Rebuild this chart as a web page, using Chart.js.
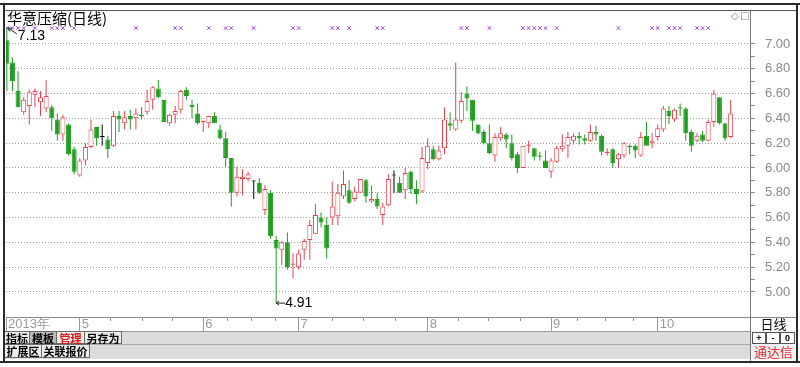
<!DOCTYPE html>
<html>
<head>
<meta charset="utf-8">
<title>华意压缩(日线)</title>
<script src="https://cdn.jsdelivr.net/npm/chart.js@4.4.1/dist/chart.umd.min.js"></script>
<style>
  html, body { margin: 0; padding: 0; background: #fff; }
  #wrap { position: relative; width: 800px; height: 367px; overflow: hidden; background: #fff;
          font-family: "Noto Sans CJK SC", sans-serif; }
  #kline { position: absolute; left: 0; top: 0; }
  .ln, .txt, .btn { position: absolute; box-sizing: border-box; }
  .btn { height: 13px; font-size: 11px; line-height: 12px; text-align: center; background: #ececec;
         border: 1px solid #6a6a6a; border-left: none; color: #000; font-weight: bold; white-space: nowrap; }
  .cell { position: absolute; box-sizing: border-box; height: 12px; width: 14px; border: 1px solid #555;
          background: #fff; font: bold 9px "Liberation Sans", Arial, sans-serif; line-height: 10px; text-align: center; }
</style>
</head>
<body>
<div id="wrap">
  <canvas id="kline" width="800" height="367"></canvas>

  <!-- frame -->
  <div class="ln" style="left:0;top:3px;width:800px;height:2px;background:#2b2b2b"></div>
  <div class="ln" style="left:3px;top:3px;width:2px;height:360px;background:#2b2b2b"></div>
  <div class="ln" style="left:796px;top:3px;width:2px;height:360px;background:#2b2b2b"></div>
  <div class="ln" style="left:0;top:361px;width:800px;height:2px;background:#2b2b2b"></div>
  <div class="ln" style="left:5px;top:10px;width:791px;height:1px;background:#555"></div>
  <div class="ln" style="left:750px;top:317px;width:1px;height:44px;background:#777"></div>
  <div class="ln" style="left:750px;top:317px;width:46px;height:1px;background:#888"></div>

  <div class="txt" style="left:7px;top:9px;font-size:15px;line-height:17px;color:#000">华意压缩(日线)</div>
  <div class="txt" style="left:731px;top:10px;font:10px 'DejaVu Sans';color:#888">◇</div>
  <div class="txt" style="left:740px;top:10px;font:10px 'DejaVu Sans';color:#888">□</div>

  <!-- toolbar -->
  <div class="ln" style="left:5px;top:331px;width:745px;height:13px;background:#dcdcdc;border-top:1px solid #999"></div>
  <div class="ln" style="left:5px;top:344px;width:745px;height:15px;background:#dcdcdc;border-top:1px solid #aaa"></div>
  <div class="btn" style="left:5px;top:331px;width:25px">指标</div>
  <div class="btn" style="left:30px;top:331px;width:27px;background:#b9b9b9">模板</div>
  <div class="btn" style="left:57px;top:331px;width:28px;color:#e01818">管理</div>
  <div class="btn" style="left:85px;top:331px;width:37px">另存为</div>
  <div class="btn" style="left:5px;top:344px;width:37px;height:14px">扩展区</div>
  <div class="btn" style="left:42px;top:344px;width:48px;height:14px">关联报价</div>

  <!-- right panel -->
  <div class="txt" style="left:751px;top:316px;width:45px;text-align:center;font-size:13px;line-height:16px;color:#000">日线</div>
  <div class="ln" style="left:751px;top:331px;width:45px;height:28px;background:#f2f2f2"></div>
  <div class="cell" style="left:752px;top:332px">+</div>
  <div class="cell" style="left:766px;top:332px">-</div>
  <div class="cell" style="left:780px;top:332px;width:15px">0</div>
  <div class="txt" style="left:751px;top:344px;width:45px;text-align:center;font-size:13px;line-height:16px;color:#e4262c">通达信</div>
</div>

<script>
// daily candles (one entry per trading day)
const opens = [
  7.03, 6.85, 6.62, 6.45, 6.50, 6.59, 6.53, 6.48, 6.49, 6.39,
  6.27, 6.35, 6.15, 5.94, 6.06, 6.17, 6.33, 6.25, 6.23, 6.18,
  6.42, 6.36, 6.42, 6.40, 6.43, 6.45, 6.55, 6.64, 6.55, 6.36,
  6.43, 6.47, 6.63, 6.51, 6.44, 6.37, 6.36, 6.42, 6.31, 6.24,
  6.08, 5.80, 5.91, 5.91, 5.89, 5.88, 5.66, 5.80, 5.42, 5.34,
  5.40, 5.22, 5.20, 5.34, 5.42, 5.47, 5.60, 5.54, 5.60, 5.61,
  5.77, 5.82, 5.75, 5.80, 5.90, 5.73, 5.75, 5.62, 5.70, 5.94,
  5.88, 5.82, 5.97, 5.83, 5.81, 6.04, 6.15, 6.07, 6.16, 6.36,
  6.31, 6.38, 6.60, 6.55, 6.35, 6.29, 6.20, 6.10, 6.24, 6.27,
  6.20, 6.11, 6.00, 6.18, 6.16, 6.10, 6.06, 5.97, 6.05, 6.15,
  6.18, 6.22, 6.26, 6.24, 6.22, 6.29, 6.26, 6.12, 6.15, 6.07,
  6.10, 6.18, 6.18, 6.10, 6.26, 6.20, 6.25, 6.31, 6.46, 6.39,
  6.49, 6.48, 6.29, 6.22, 6.27, 6.22, 6.37, 6.57, 6.36, 6.25
];
const highs = [
  7.13, 6.89, 6.78, 6.57, 6.63, 6.64, 6.62, 6.71, 6.51, 6.44,
  6.43, 6.36, 6.17, 6.08, 6.20, 6.39, 6.33, 6.35, 6.26, 6.46,
  6.46, 6.46, 6.47, 6.48, 6.49, 6.63, 6.66, 6.71, 6.55, 6.44,
  6.50, 6.63, 6.65, 6.55, 6.52, 6.38, 6.42, 6.45, 6.35, 6.29,
  6.08, 6.01, 5.99, 5.97, 5.90, 5.92, 5.86, 5.82, 5.45, 5.41,
  5.48, 5.31, 5.34, 5.43, 5.58, 5.71, 5.64, 5.60, 5.89, 5.87,
  5.98, 5.90, 5.85, 5.91, 5.91, 5.86, 5.80, 5.72, 5.95, 5.98,
  5.93, 6.00, 5.98, 5.90, 6.17, 6.24, 6.18, 6.18, 6.49, 6.45,
  6.85, 6.61, 6.66, 6.55, 6.35, 6.31, 6.35, 6.28, 6.33, 6.28,
  6.27, 6.13, 6.18, 6.22, 6.16, 6.13, 6.14, 6.08, 6.18, 6.27,
  6.29, 6.28, 6.29, 6.27, 6.35, 6.34, 6.27, 6.16, 6.16, 6.12,
  6.21, 6.19, 6.19, 6.29, 6.37, 6.28, 6.35, 6.50, 6.50, 6.48,
  6.52, 6.49, 6.31, 6.28, 6.30, 6.39, 6.63, 6.57, 6.36, 6.55
];
const lows = [
  6.62, 6.62, 6.49, 6.43, 6.35, 6.49, 6.42, 6.45, 6.30, 6.22,
  6.22, 6.10, 5.95, 5.93, 6.02, 6.16, 6.18, 6.18, 6.08, 6.17,
  6.29, 6.31, 6.31, 6.31, 6.39, 6.43, 6.47, 6.56, 6.37, 6.34,
  6.36, 6.44, 6.55, 6.40, 6.35, 6.29, 6.32, 6.36, 6.23, 6.01,
  5.69, 5.77, 5.78, 5.89, 5.75, 5.79, 5.62, 5.43, 4.91, 5.22,
  5.18, 5.11, 5.18, 5.26, 5.26, 5.47, 5.52, 5.27, 5.54, 5.54,
  5.75, 5.71, 5.73, 5.80, 5.72, 5.72, 5.67, 5.54, 5.69, 5.80,
  5.80, 5.75, 5.79, 5.71, 5.80, 5.99, 6.06, 6.06, 6.11, 6.30,
  6.30, 6.36, 6.46, 6.30, 6.27, 6.19, 6.11, 6.05, 6.22, 6.16,
  6.06, 5.96, 6.00, 6.12, 6.06, 6.06, 6.00, 5.92, 6.04, 6.13,
  6.08, 6.19, 6.19, 6.19, 6.21, 6.22, 6.10, 6.10, 6.00, 6.00,
  6.08, 6.11, 6.08, 6.09, 6.18, 6.16, 6.22, 6.29, 6.35, 6.37,
  6.42, 6.22, 6.13, 6.21, 6.21, 6.22, 6.33, 6.35, 6.22, 6.24
];
const closes = [
  6.84, 6.70, 6.49, 6.55, 6.61, 6.62, 6.57, 6.58, 6.40, 6.27,
  6.41, 6.11, 5.97, 6.06, 6.17, 6.31, 6.24, 6.25, 6.15, 6.42,
  6.39, 6.41, 6.39, 6.44, 6.42, 6.54, 6.65, 6.57, 6.37, 6.43,
  6.46, 6.62, 6.58, 6.49, 6.36, 6.38, 6.42, 6.36, 6.24, 6.08,
  5.80, 5.93, 5.93, 5.95, 5.89, 5.80, 5.83, 5.45, 5.35, 5.40,
  5.20, 5.23, 5.31, 5.41, 5.54, 5.62, 5.56, 5.35, 5.69, 5.80,
  5.87, 5.72, 5.81, 5.91, 5.77, 5.75, 5.69, 5.69, 5.91, 5.94,
  5.80, 5.96, 5.83, 5.79, 6.08, 6.18, 6.07, 6.14, 6.39, 6.34,
  6.39, 6.54, 6.56, 6.38, 6.28, 6.20, 6.12, 6.25, 6.28, 6.23,
  6.08, 6.00, 6.18, 6.19, 6.09, 6.09, 6.00, 6.06, 6.16, 6.18,
  6.25, 6.26, 6.24, 6.22, 6.29, 6.27, 6.13, 6.13, 6.04, 6.11,
  6.20, 6.17, 6.14, 6.25, 6.18, 6.22, 6.32, 6.48, 6.42, 6.47,
  6.48, 6.28, 6.18, 6.26, 6.22, 6.37, 6.60, 6.36, 6.24, 6.44
];

// date axis: first candle of each month, and the small weekly marks
const yearLabel = '2013年';
const monthStarts = [13, 35, 52, 75, 97, 116];
const monthLabels = ['5', '6', '7', '8', '9', '10'];
const weekMarks = [18.4, 24.1, 29.4, 39.2, 43.5, 47.8, 57.9, 63.5, 69.2, 80.4, 85.7, 91.4, 101.6, 106.6, 111.6];

// price axis ticks (labelled every 0.20)
const priceTicks = [5.0, 5.1, 5.2, 5.3, 5.4, 5.5, 5.6, 5.7, 5.8, 5.9, 6.0,
                    6.1, 6.2, 6.3, 6.4, 6.5, 6.6, 6.7, 6.8, 6.9, 7.0];

// days flagged by the purple marks in the top row
const markDays = [0, 1, 2, 3, 5, 8, 9, 10, 12, 23, 30, 31, 36, 39, 40, 44, 51, 52, 58, 59, 61,
                  66, 67, 81, 82, 86, 92, 93, 94, 95, 96, 98, 109, 115, 116, 118, 119, 120, 123, 124, 125];

const RED = '#e8404c';
const GREEN = '#1f9e1f';
const BLACK = '#000000';
const colorOf = i => closes[i] > opens[i] ? RED : (closes[i] < opens[i] ? GREEN : BLACK);
const candleColors = opens.map((o, i) => colorOf(i));
const bodyFill = opens.map((o, i) => closes[i] > o ? '#ffffff' : candleColors[i]);

// extremes labelled on the chart
const hiIdx = highs.indexOf(Math.max(...highs));
const loIdx = lows.indexOf(Math.min(...lows));

const chartDecor = {
    id: 'chartDecor',
    afterDraw(chart) {
        const { ctx, chartArea } = chart;
        const xs = chart.scales.x;
        const ys = chart.scales.y;

        ctx.save();
        // weekly marks under the plot
        ctx.strokeStyle = '#9a9a9a';
        ctx.lineWidth = 1;
        for (const w of weekMarks) {
            const px = Math.round(xs.getPixelForValue(w)) + 0.5;
            ctx.beginPath();
            ctx.moveTo(px, chartArea.bottom);
            ctx.lineTo(px, chartArea.bottom + 4);
            ctx.stroke();
        }

        ctx.fillStyle = '#000';
        ctx.strokeStyle = '#222';
        ctx.font = '14px "Liberation Sans", Arial, sans-serif';
        ctx.textBaseline = 'middle';
        ctx.textAlign = 'left';

        // highest price
        let px = xs.getPixelForValue(hiIdx);
        let py = ys.getPixelForValue(highs[hiIdx]);
        ctx.beginPath();
        ctx.moveTo(px + 1, py);
        ctx.lineTo(px + 10, py + 6);
        ctx.stroke();
        ctx.beginPath();
        ctx.moveTo(px + 1, py);
        ctx.lineTo(px + 5, py + 0.5);
        ctx.moveTo(px + 1, py);
        ctx.lineTo(px + 3, py + 3.5);
        ctx.stroke();
        ctx.fillText(highs[hiIdx].toFixed(2), px + 11, py + 8);

        // lowest price
        px = xs.getPixelForValue(loIdx);
        py = ys.getPixelForValue(lows[loIdx]);
        ctx.beginPath();
        ctx.moveTo(px, py);
        ctx.lineTo(px + 9, py);
        ctx.moveTo(px, py);
        ctx.lineTo(px + 3, py - 2);
        ctx.moveTo(px, py);
        ctx.lineTo(px + 3, py + 2);
        ctx.stroke();
        ctx.fillText(lows[loIdx].toFixed(2), px + 9, py);
        ctx.restore();
    }
};

new Chart(document.getElementById('kline').getContext('2d'), {
    type: 'bar',
    data: {
        datasets: [
            {
                label: 'body',
                data: opens.map((o, i) => ({ x: i, y: [o, closes[i]] })),
                backgroundColor: bodyFill,
                borderColor: candleColors,
                borderWidth: 1,
                borderSkipped: false,
                barThickness: 5,
                minBarLength: 1,
                inflateAmount: 0,
                grouped: false,
                order: 0
            },
            {
                label: 'wick',
                data: lows.map((l, i) => ({ x: i, y: [l, highs[i]] })),
                backgroundColor: candleColors,
                borderWidth: 0,
                barThickness: 1,
                inflateAmount: 0,
                grouped: false,
                order: 1
            },
            {
                type: 'line',
                label: 'marks',
                data: markDays.map(d => ({ x: d, y: 0.941 })),
                yAxisID: 'ym',
                showLine: false,
                pointStyle: 'crossRot',
                pointRadius: 2.5,
                borderColor: '#9b45dc',
                borderWidth: 1,
                order: 2
            }
        ]
    },
    options: {
        responsive: false,
        animation: false,
        layout: { padding: { left: 6, top: 10, right: 5, bottom: 36 } },
        plugins: {
            legend: { display: false },
            tooltip: { enabled: false }
        },
        scales: {
            x: {
                type: 'linear',
                offset: false,
                min: -0.15,
                max: 132.45,
                afterBuildTicks: s => {
                    s.ticks = [{ value: -0.15 }].concat(monthStarts.map(v => ({ value: v })));
                },
                afterFit: s => { s.height = 14; s.paddingLeft = 0; s.paddingRight = 0; },
                ticks: {
                    autoSkip: false,
                    maxRotation: 0,
                    align: 'start',
                    padding: -14,
                    labelOffset: 2,
                    color: '#9a9a9a',
                    font: { family: '"Liberation Sans", Arial, sans-serif', size: 13 },
                    callback: (v, i) => i === 0 ? yearLabel : monthLabels[i - 1]
                },
                grid: { drawOnChartArea: false, offset: false, tickLength: 14, tickColor: '#9a9a9a' },
                border: { display: true, color: '#8a8a8a' }
            },
            y: {
                position: 'right',
                min: 4.798,
                max: 7.274,
                afterBuildTicks: s => { s.ticks = priceTicks.map(v => ({ value: v })); },
                afterFit: s => { s.width = 45; s.paddingTop = 0; s.paddingBottom = 0; },
                ticks: {
                    autoSkip: false,
                    padding: 10,
                    color: '#8a8a8a',
                    font: { family: '"Liberation Sans", Arial, sans-serif', size: 13 },
                    callback: v => Math.round(v * 10) % 2 === 0 ? v.toFixed(2) : ''
                },
                grid: {
                    color: c => (c.tick && Math.round(c.tick.value * 10) % 2 === 0) ? '#9c9c9c' : 'rgba(0,0,0,0)',
                    tickColor: '#8a8a8a',
                    tickLength: 5,
                    tickBorderDash: []
                },
                border: { display: true, color: '#777', dash: [1, 2] }
            },
            ym: { display: false, min: 0, max: 1 }
        }
    },
    plugins: [chartDecor]
});
</script>
</body>
</html>
